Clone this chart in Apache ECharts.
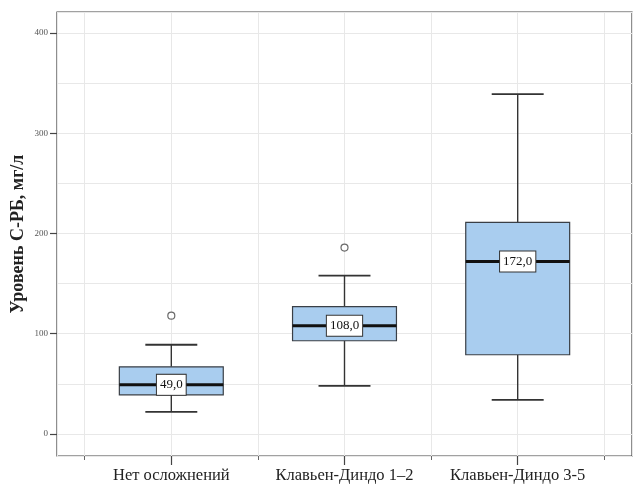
<!DOCTYPE html>
<html>
<head>
<meta charset="utf-8">
<script src="https://cdn.jsdelivr.net/npm/echarts@6/dist/echarts.min.js"></script>
<style>html,body{margin:0;padding:0;background:#fff}#c{width:635px;height:486px}</style>
</head>
<body>
<div id="c"></div>
<script>
// ---- data ----
var categories = ['Нет осложнений', 'Клавьен-Диндо 1–2', 'Клавьен-Диндо 3-5'];
var positions = [1, 2, 3];
var whiskerLow = [22, 48, 34];
var q1 = [39, 93, 79];
var medians = [49, 108, 172];
var q3 = [67, 127, 211];
var whiskerHigh = [89, 158, 339];
var outlierGroup = [1, 2];
var outlierValue = [118, 186];
var yTickValues = [0, 100, 200, 300, 400];
var xMajorTicks = [1, 2, 3];
var xMinorTicks = [0.5, 1.5, 2.5, 3.5];
var yAxisName = 'Уровень С-РБ, мг/л';

var boxData = positions.map(function (p, i) {
  return [p, whiskerLow[i], q1[i], medians[i], q3[i], whiskerHigh[i]];
});
var outlierData = outlierGroup.map(function (g, i) { return [g, outlierValue[i]]; });

var FONT = 'Liberation Serif';
var DARK = '#333';
var xMin = 0.34, xMax = 3.66, yMin = -22, yMax = 421;

function fmt(v) { return v.toFixed(1).replace('.', ','); }

var chart = echarts.init(document.getElementById('c'));
chart.setOption({
  animation: false,
  backgroundColor: '#fff',
  grid: { left: 57, right: 3, top: 12, bottom: 30, show: true, borderColor: '#444', borderWidth: 1.2, backgroundColor: 'transparent' },
  xAxis: [
    { type: 'value', min: xMin, max: xMax, splitNumber: 7,
      axisLine: { show: false, onZero: false }, axisTick: { show: false }, axisLabel: { show: false },
      splitLine: { show: true, lineStyle: { color: '#e8e8e8', width: 1 } } },
    { type: 'value', position: 'bottom', min: xMin, max: xMax,
      axisLine: { show: false, onZero: false },
      axisTick: { show: true, length: 9, customValues: xMajorTicks, lineStyle: { color: '#444', width: 1.2 } },
      axisLabel: { show: true, customValues: xMajorTicks, margin: 11, fontFamily: FONT, fontSize: 16.5, color: '#222',
        formatter: function (v) { return categories[Math.round(v) - 1] || ''; } },
      splitLine: { show: false } },
    { type: 'value', position: 'bottom', min: xMin, max: xMax,
      axisLine: { show: false, onZero: false },
      axisTick: { show: true, length: 4, customValues: xMinorTicks, lineStyle: { color: '#666', width: 1 } },
      axisLabel: { show: false }, splitLine: { show: false } }
  ],
  yAxis: [
    { type: 'value', min: yMin, max: yMax, splitNumber: 9,
      axisLine: { show: false, onZero: false }, axisTick: { show: false }, axisLabel: { show: false },
      splitLine: { show: true, lineStyle: { color: '#e8e8e8', width: 1 } },
      name: yAxisName, nameLocation: 'middle', nameGap: 30,
      nameTextStyle: { fontFamily: FONT, fontSize: 18, fontWeight: 'bold', color: '#222' } },
    { type: 'value', position: 'left', min: yMin, max: yMax,
      axisLine: { show: false, onZero: false },
      axisTick: { show: true, length: 7, customValues: yTickValues, lineStyle: { color: '#444', width: 1.2 } },
      axisLabel: { show: true, customValues: yTickValues, margin: 9, fontFamily: FONT, fontSize: 9, color: '#555' },
      splitLine: { show: false } }
  ],
  series: [
    {
      type: 'custom', xAxisIndex: 0, yAxisIndex: 0, data: boxData,
      encode: { x: 0, y: [1, 2, 3, 4, 5] },
      renderItem: function (params, api) {
        var x = api.value(0);
        var pLo = api.coord([x, api.value(1)]);
        var pQ1 = api.coord([x, api.value(2)]);
        var pMed = api.coord([x, api.value(3)]);
        var pQ3 = api.coord([x, api.value(4)]);
        var pHi = api.coord([x, api.value(5)]);
        var bw = api.size([0.6, 0])[0];
        var cw = bw / 2;
        var cx = pMed[0];
        var lineStyle = { stroke: DARK, lineWidth: 1.4 };
        return {
          type: 'group',
          children: [
            { type: 'line', shape: { x1: cx, y1: pHi[1], x2: cx, y2: pQ3[1] }, style: lineStyle },
            { type: 'line', shape: { x1: cx, y1: pQ1[1], x2: cx, y2: pLo[1] }, style: lineStyle },
            { type: 'line', shape: { x1: cx - cw / 2, y1: pHi[1], x2: cx + cw / 2, y2: pHi[1] }, style: { stroke: DARK, lineWidth: 1.8 } },
            { type: 'line', shape: { x1: cx - cw / 2, y1: pLo[1], x2: cx + cw / 2, y2: pLo[1] }, style: { stroke: DARK, lineWidth: 1.8 } },
            { type: 'rect', shape: { x: cx - bw / 2, y: pQ3[1], width: bw, height: pQ1[1] - pQ3[1] },
              style: { fill: '#a9cdef', stroke: '#3a3f46', lineWidth: 1.2 } },
            { type: 'line', shape: { x1: cx - bw / 2, y1: pMed[1], x2: cx + bw / 2, y2: pMed[1] }, style: { stroke: '#111', lineWidth: 3 } },
            { type: 'text', x: cx, y: pMed[1],
              style: { text: fmt(api.value(3)), align: 'center', verticalAlign: 'middle',
                fontFamily: FONT, fontSize: 13, fill: '#111',
                backgroundColor: '#fff', borderColor: '#333', borderWidth: 1, padding: [4, 3, 3, 3] } }
          ]
        };
      }
    },
    {
      type: 'scatter', xAxisIndex: 0, yAxisIndex: 0, data: outlierData,
      symbol: 'circle', symbolSize: 7,
      itemStyle: { color: '#fff', borderColor: '#444', borderWidth: 1.2 }
    }
  ]
});
</script>
</body>
</html>
